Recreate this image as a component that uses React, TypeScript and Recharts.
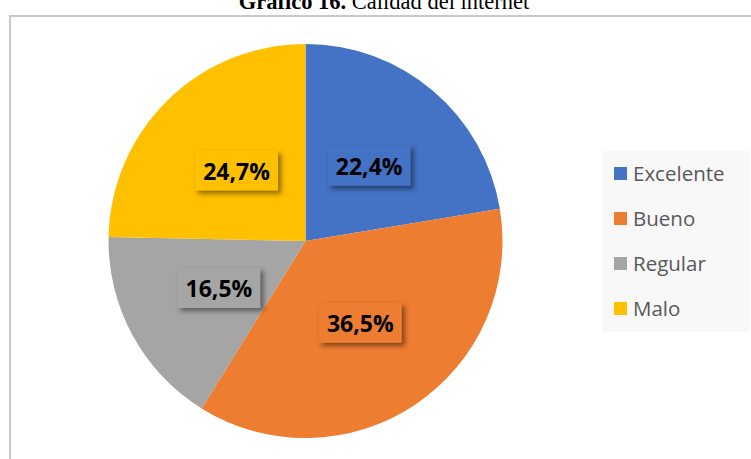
import React from 'react';
import { Cell, Pie, PieChart } from 'recharts';

// Calidad del internet – porcentajes por categoría
const categories = ['Excelente', 'Bueno', 'Regular', 'Malo'];
const percentages = [22.4, 36.5, 16.5, 24.7];
const SLICE_COLORS = ['#4472C4', '#ED7D31', '#A5A5A5', '#FFC000'];

const data = categories.map((name, i) => ({ name, value: percentages[i] }));

const RADIAN = Math.PI / 180;

interface LabelProps {
  cx: number;
  cy: number;
  midAngle: number;
  outerRadius: number;
  value: number;
  index: number;
}

// Boxed label with drop shadow, like Excel's data callouts
const renderBoxLabel = ({ cx, cy, midAngle, outerRadius, value, index }: LabelProps) => {
  const r = outerRadius * 0.5;
  const x = cx + r * Math.cos(-midAngle * RADIAN);
  const y = cy + r * Math.sin(-midAngle * RADIAN);
  const w = 83;
  const h = 40;
  const text = `${value.toFixed(1).replace('.', ',')}%`;
  return (
    <g key={`lbl-${index}`}>
      <rect
        x={x - w / 2}
        y={y - h / 2}
        width={w}
        height={h}
        fill={SLICE_COLORS[index % SLICE_COLORS.length]}
        style={{ filter: 'drop-shadow(3px 3px 2.5px rgba(0,0,0,0.45))' }}
      />
      <text
        x={x}
        y={y}
        textAnchor="middle"
        dominantBaseline="central"
        fontFamily="'Open Sans', sans-serif"
        fontWeight={700}
        fontSize={23}
        fill="#000"
      >
        {text}
      </text>
    </g>
  );
};

export default function App() {
  return (
    <div
      style={{
        position: 'absolute',
        left: 0,
        top: 0,
        width: 751,
        height: 459,
        overflow: 'hidden',
        background: '#fff',
      }}
    >
      {/* chart frame, runs off the right and bottom edges */}
      <div
        style={{
          position: 'absolute',
          left: 9,
          top: 15,
          width: 800,
          height: 500,
          border: '2px solid #c9c9c9',
          boxSizing: 'border-box',
        }}
      />
      <div
        style={{
          position: 'absolute',
          left: 8.5,
          top: -9,
          width: 751,
          textAlign: 'center',
          fontFamily: "'Liberation Serif', 'Times New Roman', serif",
          fontSize: 22.5,
          lineHeight: '22px',
          color: '#000',
          whiteSpace: 'nowrap',
        }}
      >
        <b>Gráfico 16.</b> Calidad del internet
      </div>
      <div style={{ position: 'absolute', left: 0, top: 0 }}>
        <PieChart width={751} height={459} margin={{ top: 0, right: 0, bottom: 0, left: 0 }}>
          <Pie
            data={data}
            dataKey="value"
            nameKey="name"
            cx={305.5}
            cy={241}
            outerRadius={197}
            startAngle={90}
            endAngle={-270}
            stroke="none"
            label={renderBoxLabel}
            labelLine={false}
            isAnimationActive={false}
          >
            {data.map((_, i) => (
              <Cell key={`cell-${i}`} fill={SLICE_COLORS[i % SLICE_COLORS.length]} />
            ))}
          </Pie>
        </PieChart>
      </div>
      {/* legend */}
      <div
        style={{
          position: 'absolute',
          left: 602,
          top: 151,
          width: 148,
          height: 181,
          background: '#f8f8f8',
        }}
      >
        {categories.map((name, i) => (
          <div
            key={name}
            style={{
              position: 'absolute',
              left: 12,
              top: 7 + i * 45,
              height: 30,
              display: 'flex',
              alignItems: 'center',
              fontFamily: "'Open Sans', sans-serif",
              fontSize: 20.5,
              color: '#595959',
              whiteSpace: 'nowrap',
            }}
          >
            <span
              style={{
                display: 'inline-block',
                width: 13,
                height: 13,
                marginRight: 6,
                background: SLICE_COLORS[i],
              }}
            />
            {name}
          </div>
        ))}
      </div>
    </div>
  );
}
